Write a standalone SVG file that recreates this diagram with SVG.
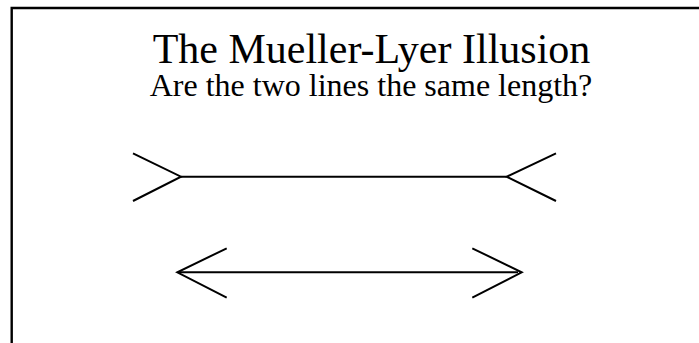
<svg xmlns="http://www.w3.org/2000/svg" width="699" height="343" viewBox="0 0 699 343">
<style>
.txt{font-family:"Liberation Serif","Times New Roman",serif;fill:#000;text-anchor:middle}
.ln{fill:none;stroke:#000;stroke-width:2;stroke-linecap:butt;stroke-linejoin:miter}
.frame{fill:none;stroke:#000;stroke-width:2.4}
</style>
<rect width="699" height="343" fill="#fff"/>
<path class="frame" d="M11.7,343 V8 H699"/>
<g id="title">
<text class="txt" x="371.5" y="62.5" font-size="42">The Mueller-Lyer Illusion</text>
<text class="txt" x="371" y="96" font-size="32">Are the two lines the same length?</text>
</g>
<g id="connectors">
<g id="top-line">
<path class="ln" d="M181,176.7 H506.7"/>
<path class="ln" d="M133,153.3 L181,176.7 L133,201"/>
<path class="ln" d="M556,153.3 L506.7,176.7 L556,201"/>
</g>
<g id="bottom-line">
<path class="ln" d="M179,272.3 H518"/>
<path class="ln" d="M226.7,248.3 L177.3,272.3 L226.7,297.7"/>
<path class="ln" d="M472.3,248.3 L521.7,272.3 L472.3,297.7"/>
</g>
</g>
</svg>
